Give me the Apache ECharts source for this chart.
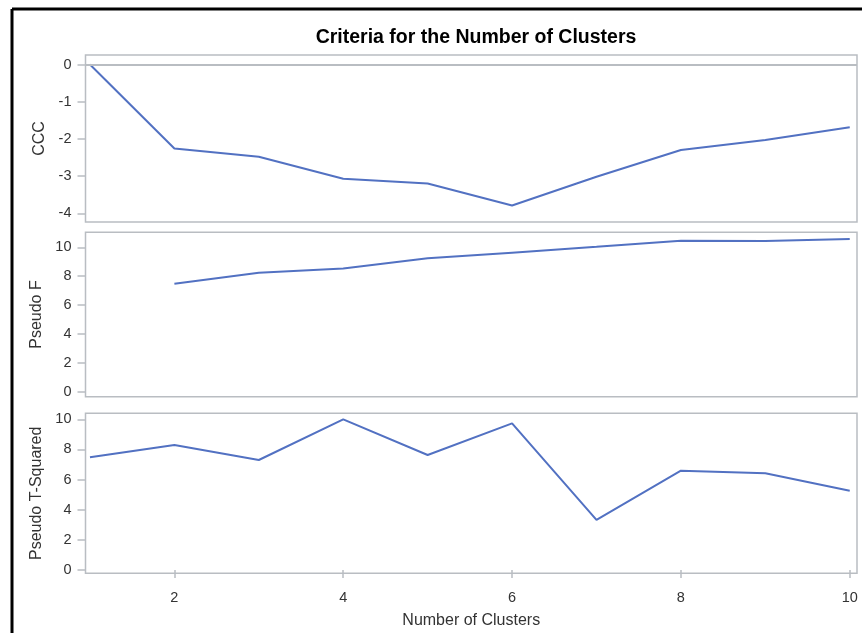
<!DOCTYPE html>
<html>
<head>
<meta charset="utf-8">
<script src="https://cdn.jsdelivr.net/npm/echarts@6/dist/echarts.min.js"></script>
<style>
  html, body { margin: 0; padding: 0; background: #fff; }
  #main { width: 862px; height: 633px; }
</style>
</head>
<body>
<div id="main"></div>
<script>
// 数据: 聚类数 与 三个判据
var clusters = [1, 2, 3, 4, 5, 6, 7, 8, 9, 10];
var ccc = [0, -2.26, -2.48, -3.07, -3.20, -3.79, -3.02, -2.30, -2.03, -1.69];
var pseudoF = [null, 7.48, 8.24, 8.54, 9.24, 9.63, 10.04, 10.46, 10.44, 10.57];
var pseudoT2 = [7.48, 8.29, 7.30, 10.0, 7.63, 9.73, 3.32, 6.59, 6.42, 5.26];

var xTicks = [2, 4, 6, 8, 10];
var cccTicks = [-4, -3, -2, -1, 0];
var fTicks = [0, 2, 4, 6, 8, 10];
var t2Ticks = [0, 2, 4, 6, 8, 10];

function pairs(vals) {
  var out = [];
  for (var i = 0; i < clusters.length; i++) {
    if (vals[i] !== null) out.push([clusters[i], vals[i]]);
  }
  return out;
}

var boxColor = '#b9bdc2';
var lineColor = '#5271c2';
var textColor = '#333333';
var font = 'Liberation Sans, Arial, sans-serif';

function xAxisFor(idx, showLabels) {
  return {
    type: 'value', gridIndex: idx, min: 0.947, max: 10.086,
    axisLine: { show: false },
    splitLine: { show: false },
    axisTick: { show: showLabels, length: 8, customValues: xTicks,
      lineStyle: { color: boxColor, width: 1.5 } },
    axisLabel: { show: showLabels, customValues: xTicks, margin: 17,
      color: textColor, fontSize: 14.5, fontFamily: font },
    name: showLabels ? 'Number of Clusters' : '',
    nameLocation: 'middle', nameGap: 39,
    nameTextStyle: { color: textColor, fontSize: 16, fontFamily: font }
  };
}

function yAxisFor(idx, min, max, ticks, name, gap) {
  return {
    type: 'value', gridIndex: idx, min: min, max: max,
    axisLine: { show: false },
    splitLine: { show: false },
    axisTick: { show: true, length: 8, customValues: ticks,
      lineStyle: { color: boxColor, width: 1.5 } },
    axisLabel: { customValues: ticks, margin: 14,
      color: textColor, fontSize: 14.5, fontFamily: font },
    name: name, nameLocation: 'middle', nameGap: gap,
    nameTextStyle: { color: textColor, fontSize: 16, fontFamily: font }
  };
}

var myChart = echarts.init(document.getElementById('main'));
var option = {
  animation: false,
  backgroundColor: '#fff',
  title: {
    text: 'Criteria for the Number of Clusters',
    left: 471, top: 23, textAlign: 'center',
    textStyle: { fontSize: 19.5, fontWeight: 'bold', color: '#000', fontFamily: font }
  },
  grid: [
    { left: 85.5, top: 55, width: 771.5, height: 167, show: true, borderColor: boxColor, borderWidth: 1.5 },
    { left: 85.5, top: 232.3, width: 771.5, height: 164.4, show: true, borderColor: boxColor, borderWidth: 1.5 },
    { left: 85.5, top: 413.3, width: 771.5, height: 160, show: true, borderColor: boxColor, borderWidth: 1.5 }
  ],
  xAxis: [xAxisFor(0, false), xAxisFor(1, false), xAxisFor(2, true)],
  yAxis: [
    yAxisFor(0, -4.235, 0.256, cccTicks, 'CCC', 38),
    yAxisFor(1, -0.35, 11.04, fTicks, 'Pseudo F', 38),
    yAxisFor(2, -0.22, 10.4, t2Ticks, 'Pseudo T-Squared', 38)
  ],
  graphic: [
    { type: 'line', shape: { x1: 12, y1: 9, x2: 862, y2: 9 }, style: { stroke: '#000', lineWidth: 3 } },
    { type: 'line', shape: { x1: 12, y1: 9, x2: 12, y2: 633 }, style: { stroke: '#000', lineWidth: 3 } }
  ],
  series: [
    {
      type: 'line', xAxisIndex: 0, yAxisIndex: 0, data: pairs(ccc),
      symbol: 'none', lineStyle: { color: lineColor, width: 2 },
      markLine: {
        silent: true, symbol: 'none', label: { show: false },
        lineStyle: { color: boxColor, width: 2, type: 'solid' },
        data: [{ yAxis: 0 }]
      }
    },
    {
      type: 'line', xAxisIndex: 1, yAxisIndex: 1, data: pairs(pseudoF),
      symbol: 'none', lineStyle: { color: lineColor, width: 2 }
    },
    {
      type: 'line', xAxisIndex: 2, yAxisIndex: 2, data: pairs(pseudoT2),
      symbol: 'none', lineStyle: { color: lineColor, width: 2 }
    }
  ]
};
myChart.setOption(option);
</script>
</body>
</html>
